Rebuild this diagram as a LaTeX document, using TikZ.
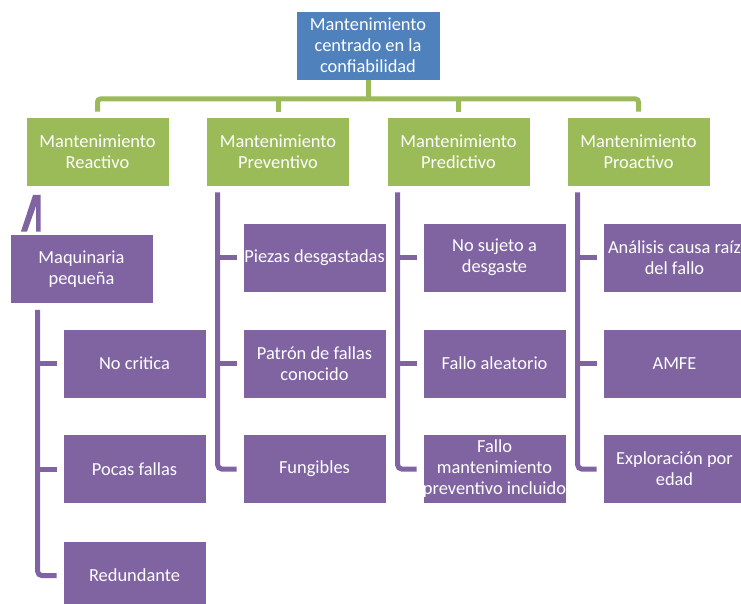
\documentclass[tikz,border=0pt]{standalone}
\usepackage{fontspec}
\setmainfont{Carlito}
\usetikzlibrary{calc}
\definecolor{cblue}{HTML}{4F81BD}
\definecolor{cgreen}{HTML}{9BBB59}
\definecolor{cpurple}{HTML}{8064A2}
\begin{document}
\begin{tikzpicture}[x=1pt,y=-1pt,
  box/.style={rectangle, minimum width=143pt, minimum height=69pt, inner sep=0pt,
    text=white, align=center, draw=white, line width=0.6pt,
    font=\fontsize{18.4}{21}\selectfont},
  topbox/.style={box, fill=cblue, minimum width=144pt},
  gbox/.style={box, fill=cgreen},
  pbox/.style={box, fill=cpurple},
  gline/.style={draw=cgreen, line width=5pt, rounded corners=3pt},
  pline/.style={draw=cpurple, line width=5pt, rounded corners=4pt}]
\useasboundingbox (0,0) rectangle (741,604);
\clip (0,0) rectangle (741,604);
\fill[white] (0,0) rectangle (741,604);
% top
\node[topbox] (top) at (368,45.5) {Mantenimiento\\centrado en la\\confiabilidad};
% green
\node[gbox] (g1) at (97.5,151.5) {Mantenimiento\\Reactivo};
\node[gbox] (g2) at (278,151.5) {Mantenimiento\\Preventivo};
\node[gbox] (g3) at (458.5,151.5) {Mantenimiento\\Predictivo};
\node[gbox] (g4) at (638.5,151.5) {Mantenimiento\\Proactivo};
% purple col1
\node[pbox] (m) at (81.5,269) {Maquinaria\\pequeña};
\node[pbox] (c11) at (134.5,363.5) {No critica};
\node[pbox] (c12) at (134.5,469) {Pocas fallas};
\node[pbox] (c13) at (134.5,575.5) {Redundante};
% col2
\node[pbox] (c21) at (314.5,257.5) {Piezas desgastadas};
\node[pbox] (c22) at (314.5,363.5) {Patrón de fallas\\conocido};
\node[pbox] (c23) at (314.5,469) {Fungibles};
% col3
\node[pbox] (c31) at (494.5,257.5) {No sujeto a\\desgaste};
\node[pbox] (c32) at (494.5,363.5) {Fallo aleatorio};
\node[pbox] (c33) at (494.5,469) {Fallo\\mantenimiento\\preventivo incluido};
% col4
\node[pbox] (c41) at (674.5,257.5) {Análisis causa raíz\\del fallo};
\node[pbox] (c42) at (674.5,363.5) {AMFE};
\node[pbox] (c43) at (674.5,469) {Exploración por\\edad};
% green connectors
\coordinate (bus) at (368,99);
\draw[gline] (top.south) -- (bus);
\draw[gline] ($(g1.north)+(0,-5)$) -- (g1.north |- bus) -- (g4.north |- bus) -- ($(g4.north)+(0,-5)$);
\draw[gline] ($(g2.north)+(0,-5)$) -- (g2.north |- bus);
\draw[gline] ($(g3.north)+(0,-5)$) -- (g3.north |- bus);
% purple connectors column 1
\fill[cpurple] (21,231.5) -- (33,195) -- (40.5,195) -- (40.5,231.5) -- (36,231.5) -- (36,206) -- (27,231.5) -- cycle;
\coordinate (v1) at ($(c11.west)+(-25,0)$);
\draw[pline] (v1 |- {$(m.south)+(0,6)$}) |- ($(c13.west)+(-6,0)$);
\draw[pline] (v1) -- ($(c11.west)+(-6,0)$);
\draw[pline] (v1 |- c12.west) -- ($(c12.west)+(-6,0)$);
% column 2
\coordinate (v2) at ($(c21.west)+(-25,0)$);
\draw[pline] (v2 |- {$(g2.south)+(0,6)$}) |- ($(c23.west)+(-6,0)$);
\draw[pline] (v2) -- ($(c21.west)+(-6,0)$);
\draw[pline] (v2 |- c22.west) -- ($(c22.west)+(-6,0)$);
% column 3
\coordinate (v3) at ($(c31.west)+(-25,0)$);
\draw[pline] (v3 |- {$(g3.south)+(0,6)$}) |- ($(c33.west)+(-6,0)$);
\draw[pline] (v3) -- ($(c31.west)+(-6,0)$);
\draw[pline] (v3 |- c32.west) -- ($(c32.west)+(-6,0)$);
% column 4
\coordinate (v4) at ($(c41.west)+(-25,0)$);
\draw[pline] (v4 |- {$(g4.south)+(0,6)$}) |- ($(c43.west)+(-6,0)$);
\draw[pline] (v4) -- ($(c41.west)+(-6,0)$);
\draw[pline] (v4 |- c42.west) -- ($(c42.west)+(-6,0)$);
\end{tikzpicture}
\end{document}
